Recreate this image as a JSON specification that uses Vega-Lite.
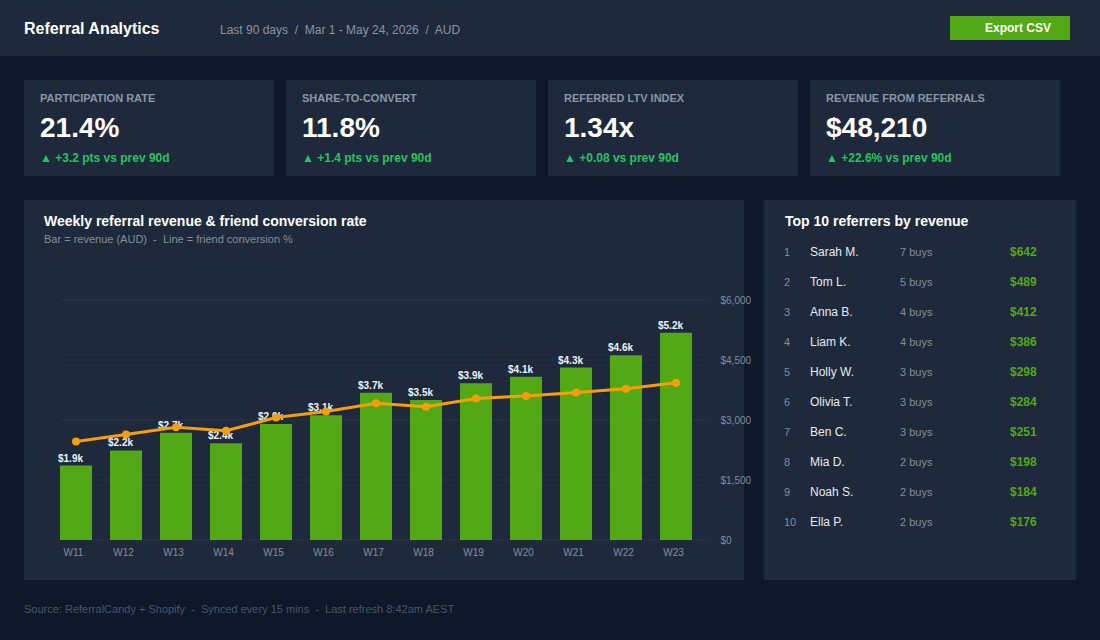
{
  "$schema": "https://vega.github.io/schema/vega-lite/v6.json",
  "background": "#0f172a",
  "padding": 0,
  "spacing": 24,
  "config": {
    "view": {"stroke": null},
    "font": "Liberation Sans",
    "text": {"font": "Liberation Sans"},
    "axis": {"labelFont": "Liberation Sans"}
  },
  "vconcat": [
    {
      "width": 1100,
      "height": 56,
      "view": {"fill": "#1e293b"},
      "data": {"values": [{"title": "Referral Analytics", "period": "Last 90 days \u00a0/\u00a0 Mar 1 - May 24, 2026 \u00a0/\u00a0 AUD", "action": "Export CSV"}]},
      "layer": [
        {
          "mark": {"type": "text", "align": "left", "baseline": "middle", "dx": -526, "dy": 1, "fontSize": 16, "fontWeight": "bold", "color": "#ffffff"},
          "encoding": {"text": {"field": "title"}}
        },
        {
          "mark": {"type": "text", "align": "left", "baseline": "middle", "dx": -330, "dy": 2, "fontSize": 12, "color": "#8a95a7"},
          "encoding": {"text": {"field": "period"}}
        },
        {
          "mark": {"type": "rect", "color": "#53a815"},
          "encoding": {
            "x": {"field": "action", "type": "nominal", "scale": {"type": "band", "range": [950, 1070]}, "axis": null},
            "y": {"field": "action", "type": "nominal", "scale": {"type": "band", "range": [16, 40]}, "axis": null}
          }
        },
        {
          "mark": {"type": "text", "align": "center", "baseline": "middle", "dx": 8, "fontSize": 12, "fontWeight": "bold", "color": "#ffffff"},
          "encoding": {
            "x": {"field": "action", "type": "nominal", "scale": {"type": "band", "range": [950, 1070]}, "axis": null},
            "y": {"field": "action", "type": "nominal", "scale": {"type": "band", "range": [16, 40]}, "axis": null},
            "text": {"field": "action"}
          }
        }
      ]
    },
    {
      "width": 1100,
      "height": 96,
      "data": {
        "values": [
          {"metric": "PARTICIPATION RATE", "value": "21.4%", "delta": "▲ +3.2 pts vs prev 90d"},
          {"metric": "SHARE-TO-CONVERT", "value": "11.8%", "delta": "▲ +1.4 pts vs prev 90d"},
          {"metric": "REFERRED LTV INDEX", "value": "1.34x", "delta": "▲ +0.08 vs prev 90d"},
          {"metric": "REVENUE FROM REFERRALS", "value": "$48,210", "delta": "▲ +22.6% vs prev 90d"}
        ]
      },
      "encoding": {
        "x": {
          "field": "metric",
          "type": "nominal",
          "sort": null,
          "bandPosition": 0,
          "scale": {"type": "band", "range": [24, 1060], "paddingInner": 0.0458, "paddingOuter": 0},
          "axis": null
        }
      },
      "layer": [
        {"mark": {"type": "rect", "color": "#1e293b"}},
        {
          "mark": {"type": "text", "align": "left", "baseline": "middle", "dx": 16, "dy": -29, "fontSize": 11, "fontWeight": "bold", "color": "#8a95a7"},
          "encoding": {"text": {"field": "metric"}}
        },
        {
          "mark": {"type": "text", "align": "left", "baseline": "middle", "dx": 16, "dy": 1, "fontSize": 28, "fontWeight": "bold", "color": "#ffffff"},
          "encoding": {"text": {"field": "value"}}
        },
        {
          "mark": {"type": "text", "align": "left", "baseline": "middle", "dx": 16, "dy": 30, "fontSize": 12, "fontWeight": "bold", "color": "#22c55e"},
          "encoding": {"text": {"field": "delta"}}
        }
      ]
    },
    {
      "spacing": 20,
      "bounds": "flush",
      "hconcat": [
        {
          "width": 4,
          "height": 380,
          "data": {"values": [{}]},
          "mark": {"type": "rect", "opacity": 0}
        },
        {
          "width": 720,
          "height": 380,
          "view": {"fill": "#1e293b"},
          "resolve": {"scale": {"x": "independent", "y": "independent"}, "axis": {"x": "independent", "y": "independent"}},
          "data": {
            "name": "weekly",
            "values": [
              {"week": "W11", "revenue": 1860, "conversion": 8.2},
              {"week": "W12", "revenue": 2240, "conversion": 8.8},
              {"week": "W13", "revenue": 2680, "conversion": 9.4},
              {"week": "W14", "revenue": 2420, "conversion": 9.1},
              {"week": "W15", "revenue": 2900, "conversion": 10.2},
              {"week": "W16", "revenue": 3120, "conversion": 10.7},
              {"week": "W17", "revenue": 3680, "conversion": 11.4},
              {"week": "W18", "revenue": 3500, "conversion": 11.1},
              {"week": "W19", "revenue": 3920, "conversion": 11.8},
              {"week": "W20", "revenue": 4080, "conversion": 12.0},
              {"week": "W21", "revenue": 4310, "conversion": 12.3},
              {"week": "W22", "revenue": 4620, "conversion": 12.6},
              {"week": "W23", "revenue": 5180, "conversion": 13.1}
            ]
          },
          "layer": [
            {
              "data": {"values": [{"tick": 0}, {"tick": 1500}, {"tick": 3000}, {"tick": 4500}, {"tick": 6000}]},
              "mark": {"type": "rule", "color": "#283548", "strokeWidth": 1},
              "encoding": {
                "y": {
                  "field": "tick",
                  "type": "quantitative",
                  "scale": {"domain": [0, 6000], "range": [340, 100]},
                  "axis": {
                    "orient": "right",
                    "offset": -24,
                    "values": [0, 1500, 3000, 4500, 6000],
                    "format": "$,.0f",
                    "title": null,
                    "grid": false,
                    "domain": false,
                    "ticks": false,
                    "labelPadding": 0,
                    "labelFontSize": 10,
                    "labelColor": "#838d9e"
                  }
                },
                "x": {"datum": 0, "type": "quantitative", "scale": {"domain": [0, 1], "range": [36, 686]}, "axis": null},
                "x2": {"datum": 1}
              }
            },
            {
              "mark": {"type": "bar", "color": "#53a815"},
              "encoding": {
                "x": {
                  "field": "week",
                  "type": "nominal",
                  "sort": null,
                  "scale": {"type": "band", "range": [36, 668], "paddingInner": 0.36, "paddingOuter": 0},
                  "axis": {
                    "orient": "bottom",
                    "offset": -33,
                    "title": null,
                    "domain": false,
                    "ticks": false,
                    "grid": false,
                    "labelAngle": 0,
                    "labelPadding": 0,
                    "labelOffset": -2.5,
                    "labelFontSize": 10,
                    "labelColor": "#838d9e"
                  }
                },
                "y": {"field": "revenue", "type": "quantitative", "scale": {"domain": [0, 6000], "range": [340, 100]}, "axis": null}
              }
            },
            {
              "mark": {"type": "text", "align": "left", "baseline": "alphabetic", "dx": -18, "dy": -4, "fontSize": 10, "fontWeight": "bold", "color": "#f1f3f6"},
              "encoding": {
                "x": {
                  "field": "week",
                  "type": "nominal",
                  "sort": null,
                  "scale": {"type": "band", "range": [36, 668], "paddingInner": 0.36, "paddingOuter": 0},
                  "axis": null
                },
                "y": {"field": "revenue", "type": "quantitative", "scale": {"domain": [0, 6000], "range": [340, 100]}, "axis": null},
                "text": {"field": "revenue", "type": "quantitative", "format": "$.2s"}
              }
            },
            {
              "mark": {
                "type": "line",
                "color": "#f59e0b",
                "strokeWidth": 3,
                "point": {"filled": true, "size": 64, "color": "#f59e0b", "opacity": 1}
              },
              "encoding": {
                "x": {
                  "field": "week",
                  "type": "nominal",
                  "sort": null,
                  "scale": {"type": "band", "range": [36, 668], "paddingInner": 0.36, "paddingOuter": 0},
                  "axis": null
                },
                "y": {"field": "conversion", "type": "quantitative", "scale": {"domain": [0, 20], "range": [340, 100]}, "axis": null}
              }
            },
            {
              "data": {"values": [{"title": "Weekly referral revenue & friend conversion rate", "subtitle": "Bar = revenue (AUD) \u00a0-\u00a0 Line = friend conversion %"}]},
              "layer": [
                {
                  "mark": {"type": "text", "align": "left", "baseline": "middle", "dx": -340, "dy": -168, "fontSize": 14, "fontWeight": "bold", "color": "#ffffff"},
                  "encoding": {"text": {"field": "title"}}
                },
                {
                  "mark": {"type": "text", "align": "left", "baseline": "middle", "dx": -340, "dy": -150, "fontSize": 11, "color": "#838d9e"},
                  "encoding": {"text": {"field": "subtitle"}}
                }
              ]
            }
          ]
        },
        {
          "width": 312,
          "height": 380,
          "view": {"fill": "#1e293b"},
          "layer": [
            {
              "data": {"values": [{"title": "Top 10 referrers by revenue"}]},
              "mark": {"type": "text", "align": "left", "baseline": "middle", "dx": -135, "dy": -168, "fontSize": 14, "fontWeight": "bold", "color": "#ffffff"},
              "encoding": {"text": {"field": "title"}}
            },
            {
              "data": {
                "values": [
                  {"rank": 1, "name": "Sarah M.", "buys": "7 buys", "revenue": "$642"},
                  {"rank": 2, "name": "Tom L.", "buys": "5 buys", "revenue": "$489"},
                  {"rank": 3, "name": "Anna B.", "buys": "4 buys", "revenue": "$412"},
                  {"rank": 4, "name": "Liam K.", "buys": "4 buys", "revenue": "$386"},
                  {"rank": 5, "name": "Holly W.", "buys": "3 buys", "revenue": "$298"},
                  {"rank": 6, "name": "Olivia T.", "buys": "3 buys", "revenue": "$284"},
                  {"rank": 7, "name": "Ben C.", "buys": "3 buys", "revenue": "$251"},
                  {"rank": 8, "name": "Mia D.", "buys": "2 buys", "revenue": "$198"},
                  {"rank": 9, "name": "Noah S.", "buys": "2 buys", "revenue": "$184"},
                  {"rank": 10, "name": "Ella P.", "buys": "2 buys", "revenue": "$176"}
                ]
              },
              "encoding": {
                "y": {"field": "rank", "type": "ordinal", "scale": {"type": "point", "range": [52, 322], "padding": 0}, "axis": null}
              },
              "layer": [
                {
                  "mark": {"type": "text", "align": "left", "baseline": "middle", "dx": -136, "dy": 1, "fontSize": 11, "color": "#838d9e"},
                  "encoding": {"text": {"field": "rank", "type": "ordinal"}}
                },
                {
                  "mark": {"type": "text", "align": "left", "baseline": "middle", "dx": -110, "fontSize": 12, "color": "#e8eaee"},
                  "encoding": {"text": {"field": "name"}}
                },
                {
                  "mark": {"type": "text", "align": "left", "baseline": "middle", "dx": -20, "dy": 1, "fontSize": 11, "color": "#838d9e"},
                  "encoding": {"text": {"field": "buys"}}
                },
                {
                  "mark": {"type": "text", "align": "left", "baseline": "middle", "dx": 90, "fontSize": 12, "fontWeight": "bold", "color": "#53a815"},
                  "encoding": {"text": {"field": "revenue"}}
                }
              ]
            }
          ]
        }
      ]
    },
    {
      "width": 1100,
      "height": 36,
      "data": {"values": [{"note": "Source: ReferralCandy + Shopify \u00a0-\u00a0 Synced every 15 mins \u00a0-\u00a0 Last refresh 8:42am AEST"}]},
      "mark": {"type": "text", "align": "left", "baseline": "middle", "dx": -526, "dy": -15, "fontSize": 11, "color": "#475569"},
      "encoding": {"text": {"field": "note"}}
    }
  ]
}
